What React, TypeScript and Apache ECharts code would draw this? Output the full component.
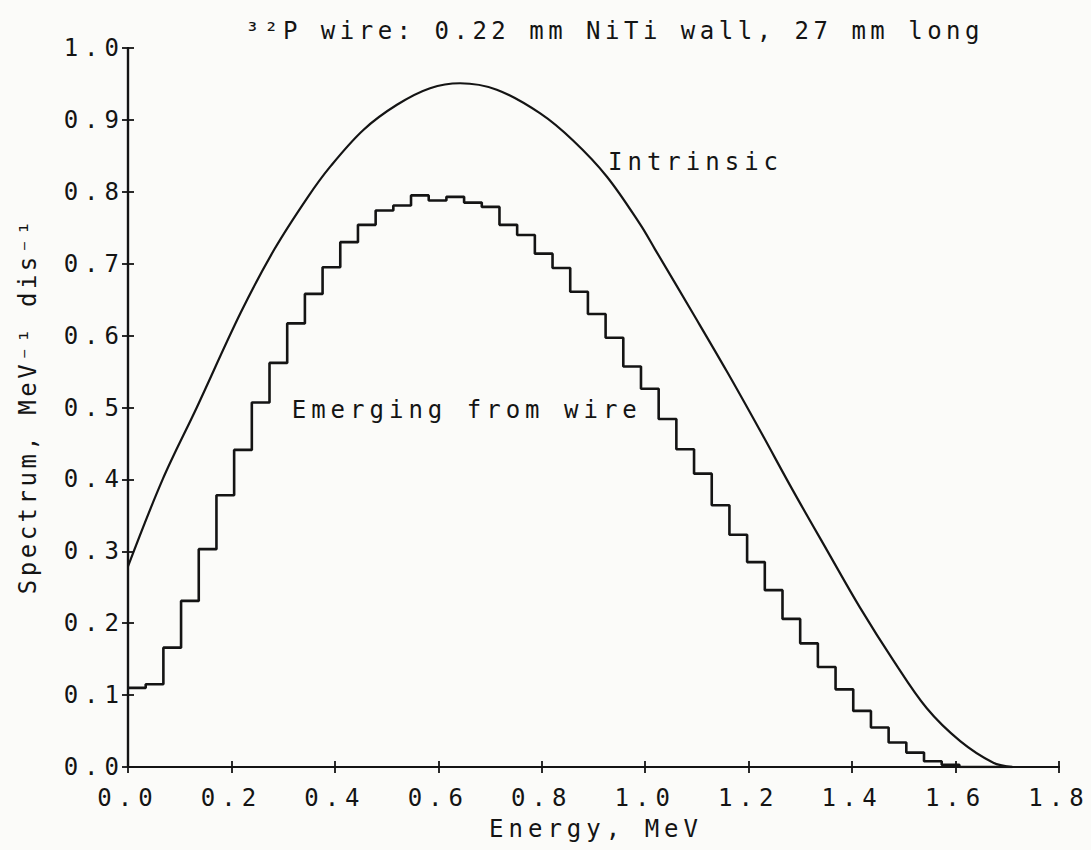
import React, { useEffect, useRef } from "react";
import * as echarts from "echarts";

// ---- texts ----
const TITLE = "³²P wire: 0.22 mm NiTi wall, 27 mm long";
const X_NAME = "Energy, MeV";
const Y_NAME = "Spectrum, MeV⁻¹ dis⁻¹";
const LABEL_INTRINSIC = "Intrinsic";
const LABEL_EMERGING = "Emerging from wire";

// ---- axes ----
const X_MIN = 0;
const X_MAX = 1.8;
const X_STEP = 0.2;
const Y_MIN = 0;
const Y_MAX = 1.0;
const Y_STEP = 0.1;

// ---- intrinsic spectrum (smooth curve) ----
const intrinsicEnergy = [
  0, 0.067, 0.133, 0.218, 0.283, 0.347, 0.391, 0.455, 0.52, 0.584, 0.642, 0.713,
  0.797, 0.861, 0.926, 0.99, 1.019, 1.093, 1.158, 1.222, 1.286, 1.351, 1.415,
  1.48, 1.544, 1.609, 1.673, 1.71,
];
const intrinsicSpectrum = [
  0.279, 0.4, 0.5, 0.632, 0.72, 0.792, 0.835, 0.886, 0.921, 0.944, 0.951, 0.942,
  0.909, 0.871, 0.821, 0.755, 0.72, 0.63, 0.55, 0.468, 0.384, 0.302, 0.222,
  0.148, 0.082, 0.036, 0.006, 0,
];

// ---- spectrum emerging from wire (histogram, bin width in MeV) ----
const BIN_WIDTH = 0.0342;
const emergingSpectrum = [
  0.11, 0.115, 0.166, 0.231, 0.303, 0.378, 0.441, 0.507, 0.562, 0.617, 0.658,
  0.695, 0.73, 0.754, 0.774, 0.781, 0.795, 0.788, 0.793, 0.785, 0.779, 0.754,
  0.74, 0.714, 0.694, 0.661, 0.63, 0.597, 0.557, 0.526, 0.484, 0.442, 0.408,
  0.364, 0.323, 0.285, 0.246, 0.206, 0.172, 0.139, 0.108, 0.078, 0.055, 0.034,
  0.02, 0.008, 0.003, 0, 0, 0,
];

// label anchors (data coordinates)
const INTRINSIC_AT = [0.928, 0.841];
const EMERGING_AT = [0.3165, 0.496];

const FONT = "'DejaVu Sans Mono', 'Liberation Mono', monospace";
const INK = "#141414";

function applySpacing(root: HTMLElement) {
  root.querySelectorAll("text").forEach((t) => {
    const txt = t.textContent || "";
    let s = 5;
    const isTick = /^\d\.\d$/.test(txt);
    if (isTick) s = 6;
    else if (txt === Y_NAME) s = 3.5;
    else if (txt === TITLE) s = 4.5;
    t.setAttribute("letter-spacing", `${s}px`);
    const anchor = t.getAttribute("text-anchor");
    if (anchor === "middle" && !isTick) t.setAttribute("dx", `${s / 2}`);
    else if (anchor === "end") t.setAttribute("dx", `${s}`);
  });
}

export default function App() {
  const ref = useRef<HTMLDivElement>(null);

  useEffect(() => {
    if (!ref.current) return;
    const chart = echarts.init(ref.current, null, { renderer: "svg" });

    const histData: [number, number][] = emergingSpectrum.map((v, i) => [
      i * BIN_WIDTH,
      v,
    ]);
    histData.push([
      emergingSpectrum.length * BIN_WIDTH,
      emergingSpectrum[emergingSpectrum.length - 1],
    ]);
    const curveData = intrinsicEnergy.map((e, i) => [e, intrinsicSpectrum[i]]);

    const axisLine = { show: true, lineStyle: { color: INK, width: 2.2 } };
    const tick = { show: true, inside: true, length: 6, lineStyle: { color: INK, width: 1.8 } };
    const labelStyle = {
      fontFamily: FONT,
      fontSize: 24,
      color: INK,
    };

    chart.setOption({
      animation: false,
      backgroundColor: "#fbfbf9",
      title: {
        text: TITLE,
        left: 245,
        top: 19,
        padding: 0,
        textStyle: { fontFamily: FONT, fontSize: 24, fontWeight: "normal", color: INK },
      },
      grid: { left: 128, right: 32, top: 48, bottom: 83, containLabel: false },
      xAxis: [
        {
          type: "value",
          min: X_MIN,
          max: X_MAX,
          interval: X_STEP,
          axisLine,
          axisTick: tick,
          splitLine: { show: false },
          axisLabel: { ...labelStyle, margin: 19, formatter: (v: number) => v.toFixed(1) },
          name: X_NAME,
          nameLocation: "middle",
          nameGap: 50,
          nameTextStyle: { fontFamily: FONT, fontSize: 24, color: INK },
        },
        {
          type: "value",
          position: "top",
          min: X_MIN,
          max: X_MAX,
          interval: X_STEP,
          axisLine,
          axisTick: tick,
          splitLine: { show: false },
          axisLabel: { show: false },
        },
      ],
      yAxis: [
        {
          type: "value",
          min: Y_MIN,
          max: Y_MAX,
          interval: Y_STEP,
          axisLine,
          axisTick: tick,
          splitLine: { show: false },
          axisLabel: { ...labelStyle, margin: 9, formatter: (v: number) => v.toFixed(1) },
          name: Y_NAME,
          nameLocation: "middle",
          nameGap: 88,
          nameTextStyle: { fontFamily: FONT, fontSize: 24, color: INK },
        },
        {
          type: "value",
          position: "right",
          min: Y_MIN,
          max: Y_MAX,
          interval: Y_STEP,
          axisLine,
          axisTick: tick,
          splitLine: { show: false },
          axisLabel: { show: false },
        },
      ],
      series: [
        {
          name: "Intrinsic",
          type: "line",
          data: curveData,
          smooth: 0.35,
          showSymbol: false,
          symbol: "none",
          lineStyle: { color: INK, width: 2.2 },
          xAxisIndex: 0,
          yAxisIndex: 0,
        },
        {
          name: "Emerging from wire",
          type: "line",
          data: histData,
          step: "end",
          showSymbol: false,
          symbol: "none",
          lineStyle: { color: INK, width: 2.6 },
          xAxisIndex: 0,
          yAxisIndex: 0,
        },
      ],
    });

    const p1 = chart.convertToPixel({ seriesIndex: 0 }, INTRINSIC_AT) as number[];
    const p2 = chart.convertToPixel({ seriesIndex: 0 }, EMERGING_AT) as number[];
    chart.setOption({
      graphic: [
        {
          type: "text",
          x: p1[0],
          y: p1[1],
          style: {
            text: LABEL_INTRINSIC,
            font: `24px ${FONT}`,
            fill: INK,
            align: "left",
            verticalAlign: "middle",
          },
        },
        {
          type: "text",
          x: p2[0],
          y: p2[1],
          style: {
            text: LABEL_EMERGING,
            font: `24px ${FONT}`,
            fill: INK,
            align: "left",
            verticalAlign: "middle",
          },
        },
      ],
    });

    applySpacing(ref.current);
    const timer = setTimeout(() => ref.current && applySpacing(ref.current), 50);

    return () => {
      clearTimeout(timer);
      chart.dispose();
    };
  }, []);

  return (
    <div
      ref={ref}
      style={{ position: "fixed", left: 0, top: 0, width: 1091, height: 850 }}
    />
  );
}
